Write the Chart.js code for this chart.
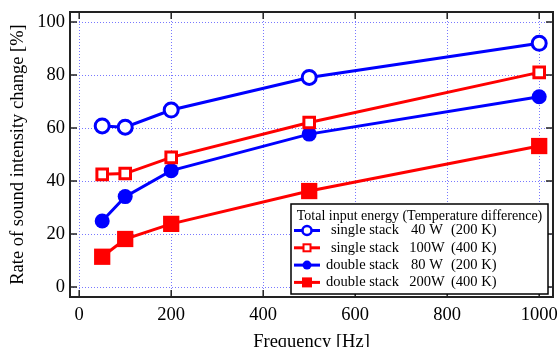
<!DOCTYPE html>
<html>
<head>
<meta charset="utf-8">
<script src="https://cdn.jsdelivr.net/npm/chart.js@4"></script>
<style>
  html, body { margin: 0; padding: 0; background: #fff; }
</style>
</head>
<body>
<canvas id="myChart" width="560" height="347"></canvas>
<script>
// values
const frequency = [50, 100, 200, 500, 1000];
const single40 = [60.8, 60.3, 66.8, 79.1, 92.0];
const single100 = [42.5, 42.8, 48.9, 62.1, 81.0];
const double80 = [24.9, 34.1, 43.9, 57.7, 71.8];
const double200 = [11.4, 18.1, 23.8, 36.2, 53.2];

const xTicks = [0, 200, 400, 600, 800, 1000];
const yTicks = [0, 20, 40, 60, 80, 100];

const legendTitle = 'Total input energy (Temperature difference)';
const stackNames = ['single stack', 'single stack', 'double stack', 'double stack'];
const powers = ['40 W', '100W', '80 W', '200W'];
const tempDiffs = ['(200 K)', '(400 K)', '(200 K)', '(400 K)'];

const BLUE = '#0000ff';
const RED = '#ff0000';
const FONT = '"Liberation Serif", "Times New Roman", serif';

function pts(values) {
    return values.map((v, i) => ({ x: frequency[i], y: v }));
}

// small markers for the legend box
function drawMarker(ctx, kind, color, x, y) {
    ctx.save();
    ctx.strokeStyle = color;
    ctx.fillStyle = color;
    if (kind === 'openCircle') {
        ctx.lineWidth = 2.5;
        ctx.fillStyle = '#fff';
        ctx.beginPath();
        ctx.arc(x, y, 4.5, 0, Math.PI * 2);
        ctx.fill();
        ctx.stroke();
    } else if (kind === 'openRect') {
        ctx.lineWidth = 2;
        ctx.fillStyle = '#fff';
        ctx.fillRect(x - 3.5, y - 3.5, 7, 7);
        ctx.strokeRect(x - 3.5, y - 3.5, 7, 7);
    } else if (kind === 'circle') {
        ctx.beginPath();
        ctx.arc(x, y, 4.5, 0, Math.PI * 2);
        ctx.fill();
    } else {
        ctx.fillRect(x - 5, y - 5, 10, 10);
    }
    ctx.restore();
}

// dotted grid, drawn under the lines
const dottedGrid = {
    id: 'dottedGrid',
    beforeDatasetsDraw(chart) {
        const ctx = chart.ctx;
        const a = chart.chartArea;
        const xs = chart.scales.x;
        const ys = chart.scales.y;
        ctx.save();
        ctx.strokeStyle = '#7878ff';
        ctx.lineWidth = 1;
        ctx.setLineDash([1, 2]);
        ctx.beginPath();
        xTicks.forEach(v => {
            const px = Math.round(xs.getPixelForValue(v)) + 0.5;
            ctx.moveTo(px, a.top);
            ctx.lineTo(px, a.bottom);
        });
        yTicks.forEach(v => {
            const py = Math.round(ys.getPixelForValue(v)) + 0.5;
            ctx.moveTo(a.left, py);
            ctx.lineTo(a.right, py);
        });
        ctx.stroke();
        ctx.restore();
    }
};

const frameAndLegend = {
    id: 'frameAndLegend',
    afterDraw(chart) {
        const ctx = chart.ctx;
        const a = chart.chartArea;
        const xs = chart.scales.x;
        const ys = chart.scales.y;
        ctx.save();

        // inward tick marks on all four sides
        ctx.strokeStyle = '#222';
        ctx.lineWidth = 1.5;
        ctx.beginPath();
        xTicks.forEach(v => {
            const px = xs.getPixelForValue(v);
            ctx.moveTo(px, a.bottom); ctx.lineTo(px, a.bottom - 7);
            ctx.moveTo(px, a.top); ctx.lineTo(px, a.top + 7);
        });
        yTicks.forEach(v => {
            const py = ys.getPixelForValue(v);
            ctx.moveTo(a.left, py); ctx.lineTo(a.left + 7, py);
            ctx.moveTo(a.right, py); ctx.lineTo(a.right - 7, py);
        });
        ctx.stroke();

        // frame
        ctx.lineWidth = 2;
        ctx.strokeRect(a.left, a.top, a.right - a.left, a.bottom - a.top);

        // legend box in the lower right corner
        const bx = a.right - 262, by = a.bottom - 93, bw = 257, bh = 90;
        ctx.fillStyle = '#fff';
        ctx.fillRect(bx, by, bw, bh);
        ctx.strokeStyle = '#000';
        ctx.lineWidth = 1.5;
        ctx.strokeRect(bx, by, bw, bh);

        ctx.fillStyle = '#000';
        ctx.font = '14px ' + FONT;
        ctx.textBaseline = 'middle';
        ctx.textAlign = 'center';
        ctx.fillText(legendTitle, bx + bw / 2, by + 12, bw - 8);

        ctx.font = '14.5px ' + FONT;
        chart.data.datasets.forEach((ds, i) => {
            const y = by + 26.5 + i * 17.3;
            ctx.strokeStyle = ds.borderColor;
            ctx.lineWidth = 3;
            ctx.beginPath();
            ctx.moveTo(bx + 3, y);
            ctx.lineTo(bx + 29, y);
            ctx.stroke();
            drawMarker(ctx, ds.legendMarker, ds.borderColor, bx + 16, y);

            ctx.fillStyle = '#000';
            ctx.textAlign = 'right';
            ctx.fillText(stackNames[i], bx + 108, y);
            ctx.textAlign = 'center';
            ctx.fillText(powers[i], bx + 136, y);
            ctx.textAlign = 'left';
            ctx.fillText(tempDiffs[i], bx + 160, y);
        });
        ctx.restore();
    }
};

const ctx = document.getElementById('myChart');
const myChart = new Chart(ctx, {
    type: 'line',
    data: {
        datasets: [
            {
                label: 'single stack 40 W (200 K)',
                data: pts(single40),
                borderColor: BLUE,
                backgroundColor: '#fff',
                borderWidth: 3,
                pointStyle: 'circle',
                pointRadius: 7,
                pointBorderWidth: 3,
                legendMarker: 'openCircle'
            },
            {
                label: 'single stack 100W (400 K)',
                data: pts(single100),
                borderColor: RED,
                backgroundColor: '#fff',
                borderWidth: 3,
                pointStyle: 'rect',
                pointRadius: 7.5,
                pointBorderWidth: 3,
                legendMarker: 'openRect'
            },
            {
                label: 'double stack 80 W (200 K)',
                data: pts(double80),
                borderColor: BLUE,
                backgroundColor: BLUE,
                borderWidth: 3,
                pointStyle: 'circle',
                pointRadius: 7.5,
                pointBorderWidth: 0,
                legendMarker: 'circle'
            },
            {
                label: 'double stack 200W (400 K)',
                data: pts(double200),
                borderColor: RED,
                backgroundColor: RED,
                borderWidth: 3,
                pointStyle: 'rect',
                pointRadius: 11.5,
                pointBorderWidth: 0,
                legendMarker: 'rect'
            }
        ]
    },
    options: {
        responsive: false,
        animation: false,
        layout: { autoPadding: false, padding: { top: 12, right: 7, left: 0, bottom: 0 } },
        plugins: {
            legend: { display: false },
            tooltip: { enabled: false }
        },
        scales: {
            x: {
                type: 'linear',
                min: -20,
                max: 1030,
                afterFit: s => { s.height = 50; s.paddingLeft = 0; s.paddingRight = 0; },
                afterBuildTicks: s => { s.ticks = xTicks.map(v => ({ value: v })); },
                grid: { display: false, drawTicks: false },
                border: { display: false },
                ticks: {
                    color: '#000', padding: 7, maxRotation: 0,
                    font: { family: FONT, size: 18.5 },
                    callback: v => String(v)
                },
                title: {
                    display: true,
                    text: 'Frequency [Hz]',
                    color: '#000',
                    font: { family: FONT, size: 18.5, lineHeight: 1 },
                    padding: { top: 0, bottom: -4 }
                }
            },
            y: {
                min: -3.8,
                max: 103.8,
                afterFit: s => { s.width = 70; s.paddingTop = 0; s.paddingBottom = 0; },
                afterBuildTicks: s => { s.ticks = yTicks.map(v => ({ value: v })); },
                grid: { display: false, drawTicks: false },
                border: { display: false },
                ticks: {
                    color: '#000', padding: 5,
                    font: { family: FONT, size: 18.5 },
                    callback: v => String(v)
                },
                title: {
                    display: true,
                    text: 'Rate of sound intensity change [%]',
                    color: '#000',
                    font: { family: FONT, size: 18.5, lineHeight: 1 },
                    padding: { top: 9, bottom: 0 }
                }
            }
        }
    },
    plugins: [dottedGrid, frameAndLegend]
});
</script>
</body>
</html>
